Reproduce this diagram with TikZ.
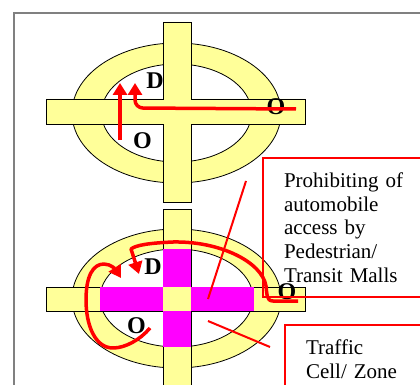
\documentclass[tikz,border=0pt]{standalone}
\usepackage{fontspec}
\setmainfont{Liberation Serif}
\usetikzlibrary{arrows.meta}
\definecolor{ringyellow}{RGB}{255,255,153}
\definecolor{mallpink}{RGB}{255,0,255}
\definecolor{framegray}{RGB}{128,128,128}

\begin{document}
\begin{tikzpicture}[x=1pt, y=-1pt,
        ring/.style={draw=black, line width=0.8pt, fill=ringyellow, even odd rule},
        road/.style={draw=black, line width=0.8pt, fill=ringyellow},
        mall/.style={fill=mallpink},
        route/.style={draw=red, line width=3.5pt, line join=round, -{Triangle[width=14pt, length=12pt]}},
        pointer/.style={draw=red, line width=2pt},
        callout/.style={draw=red, line width=2pt, anchor=north west, align=left, text width=160pt, inner xsep=21pt, inner ysep=15pt, font=\fontsize{21}{23.7}\selectfont},
        od/.style={font=\fontsize{24}{24}\bfseries\selectfont, inner sep=0pt}
    ]
        \clip (0,0) rectangle (420,385);
        \fill[white] (0,0) rectangle (420,385);
        \draw[framegray, line width=1.2pt] (14,400) -- (14,13) -- (430,13);

        \path[ring] (176.5,113) ellipse [x radius=104.5pt, y radius=70pt]
            (176.5,113) ellipse [x radius=75pt, y radius=49pt];
        \path[road] (163,22) -- (191,22) -- (191,99) -- (305,99) -- (305,124) -- (191,124) -- (191,202)
            -- (163,202) -- (163,124) -- (46,124) -- (46,99) -- (163,99) -- cycle;

        \path[ring] (176.5,298.5) ellipse [x radius=104.5pt, y radius=69.5pt]
            (176.5,298) ellipse [x radius=76.5pt, y radius=49pt];
        \path[road] (163,209) -- (191,209) -- (191,287) -- (305,287) -- (305,311) -- (191,311) -- (191,400)
            -- (163,400) -- (163,311) -- (46,311) -- (46,287) -- (163,287) -- cycle;
        \fill[mall] (100,287) rectangle (254,311);
        \fill[mall] (163,249) rectangle (191,347);
        \fill[ringyellow] (163,287) rectangle (191,311);

        \node[od] (d1) at (155,80.5) {D};
        \node[od] (o1) at (142.5,140.5) {O};
        \node[od] (o2) at (276,107) {O};
        \node[od] (d2) at (153,267) {D};
        \node[od] (o3) at (136.5,325.5) {O};
        \node[od] (o4) at (287,292) {O};

        \coordinate (a1s) at (120,140);
        \coordinate (a1e) at (120,83);
        \coordinate (a2s) at (296,109);
        \coordinate (a2e) at (135,83);
        \coordinate (b1s) at (298,301);
        \coordinate (b1e) at (139,274);
        \coordinate (b2s) at (150,328);
        \coordinate (b2e) at (121,278);
        \draw[route] (a1s) -- (a1e);
        \draw[route, rounded corners=8pt] (a2s) -- (135,108) -- (a2e);
        \draw[route] (b1s) -- (273,301) .. controls (266,301) and (267,293) .. (266,286)
            .. controls (262,262) and (220,241) .. (173,242)
            .. controls (150,243) and (136,245) .. (131,249) -- (b1e);
        \draw[route] (b2s) .. controls (140,340) and (125,348) .. (113,348)
            .. controls (95,348) and (86,325) .. (86,300)
            .. controls (86,276) and (93,264) .. (104,264)
            .. controls (111,264) and (116,270) .. (b2e);

        \node[callout] (mallbox) at (262,156.7) {Prohibiting of\\automobile\\access by\\Pedestrian/\\Transit Malls};
        \node[callout] (cellbox) at (284,323.7) {Traffic\\Cell/ Zone};
        \coordinate (p1a) at (208,299);
        \coordinate (p1b) at (246,181);
        \coordinate (p2a) at (208,321);
        \coordinate (p2b) at (270,347);
        \draw[pointer] (p1a) -- (p1b);
        \draw[pointer] (p2a) -- (p2b);
    \end{tikzpicture}
\end{document}
